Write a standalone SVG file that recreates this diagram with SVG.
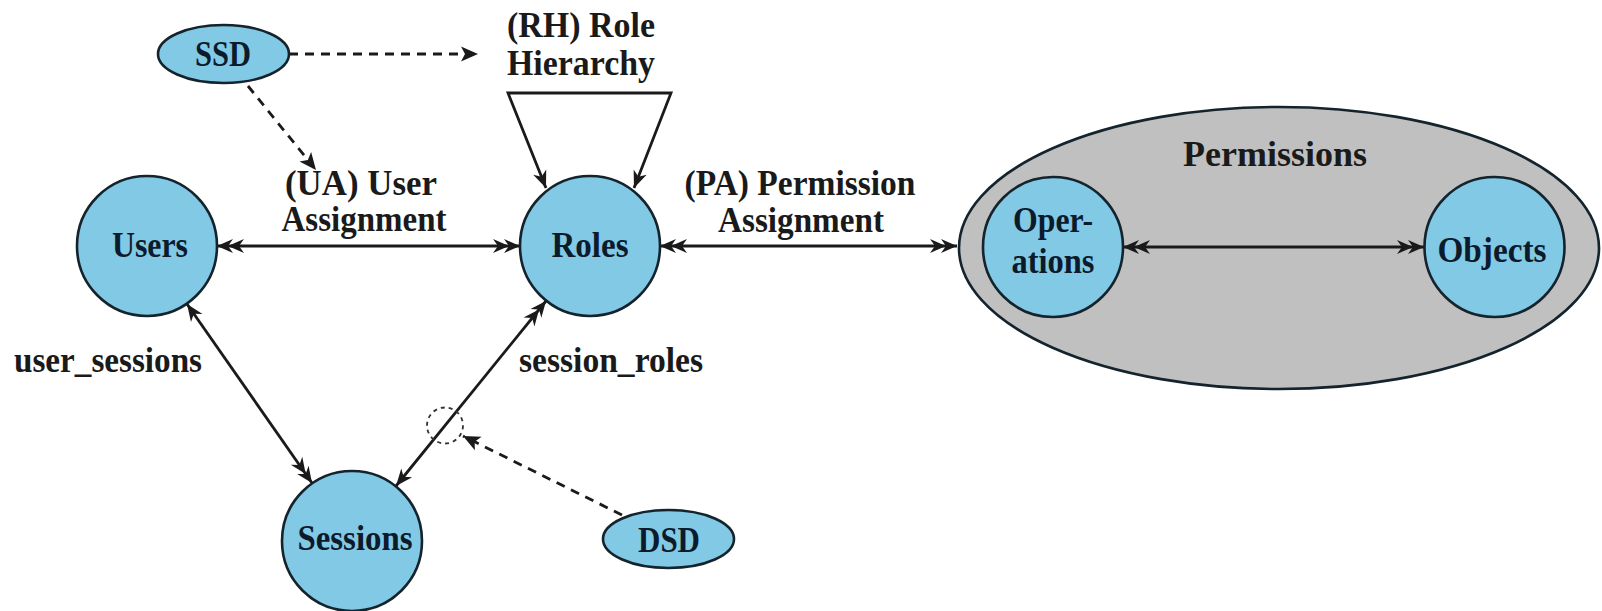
<svg xmlns="http://www.w3.org/2000/svg" width="1602" height="611" viewBox="0 0 1602 611">
<style>
  .node { fill: #82c9e5; stroke: #14232c; stroke-width: 2.6; }
  .container { fill: #c0c0c0; stroke: #14232c; stroke-width: 2.6; }
  .ntext { font-family: "Liberation Serif", "Times New Roman", serif; font-weight: bold; font-size: 35px; fill: #0c1b2c; text-anchor: middle; }
  .label { font-family: "Liberation Serif", "Times New Roman", serif; font-weight: bold; font-size: 35px; fill: #1a1a1a; text-anchor: middle; }
  .conn { fill: none; stroke: #1a1a1a; stroke-width: 2.8; }
  .dash { fill: none; stroke: #1a1a1a; stroke-width: 2.8; stroke-dasharray: 9 7; }
  .dcirc { fill: none; stroke: #333; stroke-width: 1.8; stroke-dasharray: 4 4; }
</style>
<defs>
  <marker id="one" markerUnits="userSpaceOnUse" markerWidth="22" markerHeight="18" viewBox="-20 -9 22 18" refX="0" refY="0" orient="auto-start-reverse">
    <path d="M0,0 L-17,-7 L-12,0 L-17,7 Z" fill="#1a1a1a"/>
  </marker>
  <marker id="two" markerUnits="userSpaceOnUse" markerWidth="34" markerHeight="18" viewBox="-32 -9 34 18" refX="0" refY="0" orient="auto-start-reverse">
    <path d="M0,0 L-16,-7 L-11,0 L-16,7 Z M-11,0 L-27,-7 L-22,0 L-27,7 Z" fill="#1a1a1a"/>
  </marker>
  <marker id="tri" markerUnits="userSpaceOnUse" markerWidth="22" markerHeight="18" viewBox="-20 -9 22 18" refX="0" refY="0" orient="auto">
    <path d="M0,0 L-17,-7.5 L-13,0 L-17,7.5 Z" fill="#1a1a1a"/>
  </marker>
</defs>

<g id="permissions">
  <ellipse class="container" cx="1279" cy="248" rx="320" ry="141"/>
  <text class="label" x="1275" y="166" textLength="184" lengthAdjust="spacingAndGlyphs">Permissions</text>
</g>

<g id="connectors">
  <line class="conn" x1="217" y1="246" x2="520" y2="246" marker-start="url(#two)" marker-end="url(#two)"/>
  <line class="conn" x1="660" y1="246" x2="957" y2="246" marker-start="url(#two)" marker-end="url(#two)"/>
  <line class="conn" x1="1123" y1="247" x2="1424" y2="247" marker-start="url(#two)" marker-end="url(#two)"/>
  <line class="conn" x1="187" y1="304" x2="312" y2="483" marker-start="url(#one)" marker-end="url(#two)"/>
  <line class="conn" x1="396" y1="486" x2="546" y2="301" marker-start="url(#one)" marker-end="url(#two)"/>
  <path class="conn" d="M546,188 L508,93 L671,93 L634,188" marker-start="url(#one)" marker-end="url(#one)"/>
  <line class="dash" x1="289" y1="54" x2="478" y2="54" marker-end="url(#tri)"/>
  <line class="dash" x1="248" y1="86" x2="316" y2="170" marker-end="url(#tri)"/>
  <line class="dash" x1="622" y1="515" x2="463" y2="436" marker-end="url(#tri)"/>
  <circle class="dcirc" cx="445" cy="425.5" r="18"/>
</g>

<g id="labels">
  <text class="label" x="581" y="37" textLength="148" lengthAdjust="spacingAndGlyphs">(RH) Role</text>
  <text class="label" x="581" y="75" textLength="148" lengthAdjust="spacingAndGlyphs">Hierarchy</text>
  <text class="label" x="361" y="195" textLength="152" lengthAdjust="spacingAndGlyphs">(UA) User</text>
  <text class="label" x="364" y="231" textLength="165" lengthAdjust="spacingAndGlyphs">Assignment</text>
  <text class="label" x="800" y="195" textLength="231" lengthAdjust="spacingAndGlyphs">(PA) Permission</text>
  <text class="label" x="801" y="232" textLength="166" lengthAdjust="spacingAndGlyphs">Assignment</text>
  <text class="label" x="108" y="372" textLength="188" lengthAdjust="spacingAndGlyphs">user_sessions</text>
  <text class="label" x="611" y="372" textLength="184" lengthAdjust="spacingAndGlyphs">session_roles</text>
</g>

<g id="ssd">
  <ellipse class="node" cx="223.5" cy="54" rx="65.5" ry="29"/>
  <text class="ntext" x="223" y="66" textLength="56" lengthAdjust="spacingAndGlyphs">SSD</text>
</g>
<g id="dsd">
  <ellipse class="node" cx="668.5" cy="539" rx="65.5" ry="29"/>
  <text class="ntext" x="669" y="552" textLength="62" lengthAdjust="spacingAndGlyphs">DSD</text>
</g>
<g id="users">
  <circle class="node" cx="147" cy="246" r="70"/>
  <text class="ntext" x="150" y="257" textLength="76" lengthAdjust="spacingAndGlyphs">Users</text>
</g>
<g id="roles">
  <circle class="node" cx="590" cy="246" r="70"/>
  <text class="ntext" x="590" y="257" textLength="77" lengthAdjust="spacingAndGlyphs">Roles</text>
</g>
<g id="sessions">
  <circle class="node" cx="352" cy="541" r="70"/>
  <text class="ntext" x="355" y="550" textLength="115" lengthAdjust="spacingAndGlyphs">Sessions</text>
</g>
<g id="operations">
  <circle class="node" cx="1053" cy="247" r="70"/>
  <text class="ntext" x="1053" y="232" textLength="80" lengthAdjust="spacingAndGlyphs">Oper-</text>
  <text class="ntext" x="1053" y="273" textLength="83" lengthAdjust="spacingAndGlyphs">ations</text>
</g>
<g id="objects">
  <circle class="node" cx="1494.5" cy="247" r="70"/>
  <text class="ntext" x="1492" y="262" textLength="109" lengthAdjust="spacingAndGlyphs">Objects</text>
</g>
</svg>
